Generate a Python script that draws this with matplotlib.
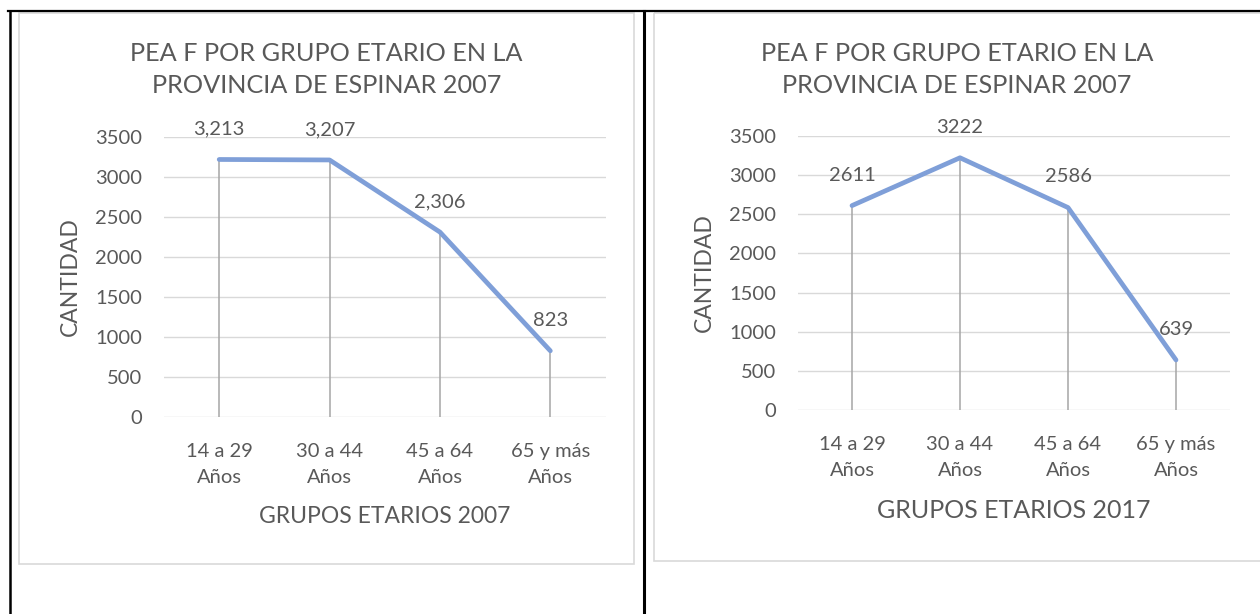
import matplotlib
matplotlib.use('Agg')

import matplotlib.pyplot as plt
from matplotlib.patches import Rectangle

plt.rcParams['font.family'] = ['Lato', 'DejaVu Sans']

# Data
grupos = ['14 a 29\nAños', '30 a 44\nAños', '45 a 64\nAños', '65 y más\nAños']
pea_2007 = [3213, 3207, 2306, 823]
pea_2017 = [2611, 3222, 2586, 639]
y_ticks = [0, 500, 1000, 1500, 2000, 2500, 3000, 3500]
titulo = 'PEA F POR GRUPO ETARIO EN LA\nPROVINCIA DE ESPINAR 2007'

W, H = 1260, 614
TXT = '#595959'
LINE = '#7F9FD8'
GRID = '#D9D9D9'
DROP = '#A6A6A6'


def px_box(l, t, r, b):
    return [l / W, 1 - b / H, (r - l) / W, (b - t) / H]


fig = plt.figure(figsize=(W / 100, H / 100), dpi=100)

# overlay in pixel coords for the table borders and chart frames
over = fig.add_axes([0, 0, 1, 1], zorder=-1)
over.set_xlim(0, W)
over.set_ylim(H, 0)
over.axis('off')
over.add_patch(Rectangle((19, 13), 615, 551, fill=False, ec=GRID, lw=1.2))
over.add_patch(Rectangle((654, 13), 610, 548, fill=False, ec=GRID, lw=1.2))
over.plot([8, W], [11, 11], color='black', lw=1.6)
over.plot([9.5, 9.5], [11, H], color='black', lw=1.8)
over.plot([644, 644], [11, H], color='black', lw=2.2)


def draw_chart(box, frame_cx, valores, fmt, xlabel, xlabel_size):
    ax = fig.add_axes(px_box(*box))
    x = range(len(valores))
    ax.vlines(x, 0, valores, color=DROP, lw=1.1, zorder=2)
    ax.plot(x, valores, color=LINE, lw=3.4, solid_capstyle='round',
            solid_joinstyle='round', zorder=3)
    for i, v in enumerate(valores):
        ax.annotate(fmt(v), (i, v), xytext=(0, 22), textcoords='offset points',
                    ha='center', va='center', fontsize=14.5, color=TXT)

    ax.set_xlim(-0.5, len(valores) - 0.5)
    ax.set_ylim(0, 3500)
    ax.set_yticks(y_ticks)
    ax.set_xticks(list(x))
    ax.set_xticklabels(grupos, linespacing=1.65)
    ax.tick_params(axis='both', length=0, labelsize=14.5, labelcolor=TXT)
    ax.tick_params(axis='y', pad=16)
    ax.tick_params(axis='x', pad=19)
    ax.grid(axis='y', color=GRID, lw=1.0)
    ax.set_axisbelow(True)
    for s in ax.spines.values():
        s.set_visible(False)

    w = box[2] - box[0]
    h = box[3] - box[1]
    ax.set_ylabel('CANTIDAD', fontsize=16.5, color=TXT, va='center')
    ax.yaxis.set_label_coords(-94 / w, 0.5)
    ax.set_xlabel(xlabel, fontsize=xlabel_size, color=TXT, va='center')
    ax.xaxis.set_label_coords(0.5, -100 / h)

    fig.text(frame_cx / W, 1 - 69.5 / H, titulo, ha='center', va='center',
             fontsize=18.2, color=TXT, linespacing=1.45)
    return ax


draw_chart((164, 136.5, 605.5, 416.7), 326.5, pea_2007,
           lambda v: f'{v:,}', 'GRUPOS ETARIOS 2007', 16.5)
draw_chart((798, 136, 1230, 410), 957, pea_2017,
           lambda v: f'{v}', 'GRUPOS ETARIOS 2017', 18)

fig.savefig('out.png', dpi=100, facecolor='white')
